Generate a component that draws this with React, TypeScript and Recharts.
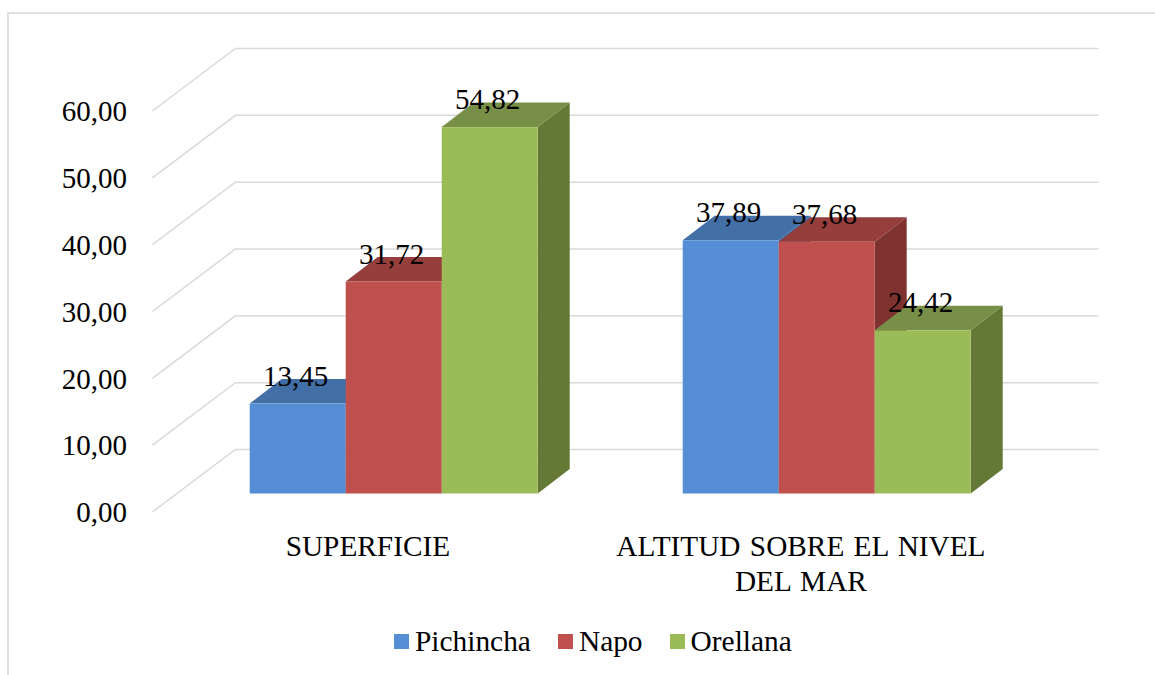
import { BarChart, Bar, XAxis, YAxis, CartesianGrid, LabelList, Legend } from 'recharts'

const categories = ['SUPERFICIE', 'ALTITUD SOBRE EL NIVEL DEL MAR']
const pichincha = [13.45, 37.89]
const napo = [31.72, 37.68]
const orellana = [54.82, 24.42]
const yTicks = [0, 10, 20, 30, 40, 50, 60]

const data = categories.map((name, i) => ({
  name,
  Pichincha: pichincha[i],
  Napo: napo[i],
  Orellana: orellana[i],
}))

const FONT = '"Liberation Serif", "Times New Roman", serif'
const DEPTH_X = 32
const DEPTH_Y = 24.5

const comma = (v: number) => v.toFixed(2).replace('.', ',')

// 3d box: front face comes from the bar scale, top and side are sheared off it
const box = (front: string, top: string, side: string) => (props: any) => {
  const { x, y, width, height } = props
  const r = x + width
  const b = y + height
  return (
    <g>
      <polygon points={`${r},${y} ${r + DEPTH_X},${y - DEPTH_Y} ${r + DEPTH_X},${b - DEPTH_Y} ${r},${b}`} fill={side} />
      <polygon points={`${x},${y} ${x + DEPTH_X},${y - DEPTH_Y} ${r + DEPTH_X},${y - DEPTH_Y} ${r},${y}`} fill={top} />
      <rect x={x} y={y} width={width} height={height} fill={front} />
    </g>
  )
}

const gridLine = (props: any) => {
  const { x1, x2, y1, key } = props
  const backY = y1 - 44
  return (
    <polyline
      key={key ?? y1}
      points={`${x1 - 25},${y1 + 18.5} ${x1 + 58},${backY} ${x2 + 55},${backY}`}
      fill="none"
      stroke="#D9D9D9"
      strokeWidth={1.5}
    />
  )
}

const YTick = ({ y, payload }: any) => (
  <text x={127} y={y + 28.7} textAnchor="end" fontFamily={FONT} fontSize={29} fill="#000">
    {comma(payload.value)}
  </text>
)

const XTick = ({ x, payload }: any) => {
  // word wrap like the original axis
  const lines: string[] = []
  for (const word of String(payload.value).split(' ')) {
    const last = lines[lines.length - 1]
    if (last && (last + ' ' + word).length <= 22) lines[lines.length - 1] = last + ' ' + word
    else lines.push(word)
  }
  return (
    <text textAnchor="middle" fontFamily={FONT} fontSize={29.3} wordSpacing={2} fill="#000">
      {lines.map((line, i) => (
        <tspan key={line} x={x - 26} y={555.5 + i * 35}>{line}</tspan>
      ))}
    </text>
  )
}

const valueLabel = (props: any) => {
  const { x, y, width, value } = props
  return (
    <text x={x + width / 2 - 2} y={y - 18} textAnchor="middle" fontFamily={FONT} fontSize={29} fill="#000">
      {comma(value)}
    </text>
  )
}

const LegendContent = ({ payload }: any) => (
  <div style={{ display: 'flex', gap: 27, fontFamily: FONT, fontSize: 29.4, lineHeight: '34px', color: '#000' }}>
    {(payload ?? []).map((p: any) => (
      <div key={p.value} style={{ display: 'flex', alignItems: 'center', gap: 6 }}>
        <span style={{ width: 15, height: 15, background: p.color, display: 'block' }} />
        <span>{p.value}</span>
      </div>
    ))}
  </div>
)

export default function App() {
  return (
    <div style={{ position: 'absolute', left: 0, top: 0, width: 1155, height: 675, background: '#fff', overflow: 'hidden' }}>
      <div style={{ position: 'absolute', left: 7, top: 12, right: -4, bottom: -4, borderTop: '2px solid #E0E0E0', borderLeft: '2px solid #E0E0E0' }} />
      <div style={{ position: 'absolute', left: 0, top: 0 }}>
        <BarChart
          width={1155}
          height={675}
          data={data}
          margin={{ top: 92.5, right: 111.6, bottom: 111.5, left: 0 }}
          barCategoryGap="16.7%"
          barGap={0}
        >
          <CartesianGrid vertical={false} horizontal={gridLine} />
          <XAxis dataKey="name" height={70} axisLine={false} tickLine={false} tick={<XTick />} interval={0} />
          <YAxis width={177.4} domain={[0, 60]} ticks={yTicks} axisLine={false} tickLine={false} tick={<YTick />} />
          <Legend
            layout="horizontal"
            verticalAlign="middle"
            itemSorter={null}
            content={<LegendContent />}
            wrapperStyle={{ top: 624, left: 394, width: 500, height: 36, margin: 0 }}
          />
          <Bar dataKey="Pichincha" fill="#558ED5" isAnimationActive={false} shape={box('#558ED5', '#426FA6', '#3B6494')}>
            <LabelList dataKey="Pichincha" content={valueLabel} />
          </Bar>
          <Bar dataKey="Napo" fill="#C0504D" isAnimationActive={false} shape={box('#C0504D', '#953E3C', '#7F3331')}>
            <LabelList dataKey="Napo" content={valueLabel} />
          </Bar>
          <Bar dataKey="Orellana" fill="#9BBB59" isAnimationActive={false} shape={box('#9BBB59', '#788F47', '#657937')}>
            <LabelList dataKey="Orellana" content={valueLabel} />
          </Bar>
        </BarChart>
      </div>
    </div>
  )
}
